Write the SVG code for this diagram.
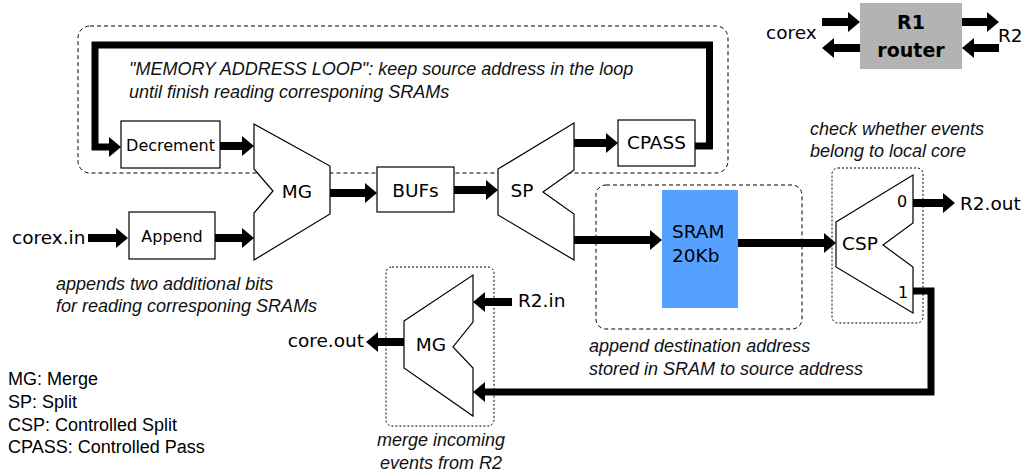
<svg xmlns="http://www.w3.org/2000/svg" width="1028" height="476" viewBox="0 0 1028 476">
<style>
.lbl{font-family:"DejaVu Sans",sans-serif;font-size:18.5px;fill:#000}
.sm{font-family:"DejaVu Sans",sans-serif;font-size:16px;fill:#000}
.note{font-family:"Liberation Sans",Arial,sans-serif;font-size:18px;font-style:italic;fill:#111}
.leg{font-family:"Liberation Sans",Arial,sans-serif;font-size:18px;fill:#000}
.bold{font-family:"DejaVu Sans",sans-serif;font-size:19px;font-weight:bold;fill:#000}
.box{fill:#fff;stroke:#000;stroke-width:1.2}
.dash{fill:none;stroke:#000;stroke-width:1;stroke-dasharray:4,3}
.dot{fill:none;stroke:#000;stroke-width:1;stroke-dasharray:2,2}
.arr{fill:none;stroke:#000;stroke-width:8;marker-end:url(#ah)}
.loop{fill:none;stroke:#000;stroke-width:7;stroke-linejoin:miter;marker-end:url(#ah)}
</style>
<defs>
<marker id="ah" markerUnits="userSpaceOnUse" markerWidth="12" markerHeight="20" viewBox="0 0 12 20" refX="1" refY="10" orient="auto">
<path d="M0,0 L12,10 L0,20 z" fill="#000"/>
</marker>
</defs>
<rect width="1028" height="476" fill="#fff"/>

<g id="regions">
<rect class="dash" x="78" y="26" width="650" height="147" rx="12"/>
<rect class="dash" x="596" y="185" width="206" height="144" rx="10"/>
<rect class="dot" x="832" y="168" width="91" height="155" rx="6"/>
<rect class="dot" x="386" y="267" width="108" height="159" rx="6"/>
</g>

<g id="connectors">
<path class="arr" d="M88,238 H117"/>
<path class="arr" d="M215,238 H243"/>
<path class="loop" d="M695,146 H709.5 V45 H95 V147 H110"/>
<path class="arr" d="M220,146 H243"/>
<path class="arr" d="M330,193 H366"/>
<path class="arr" d="M454,190 H487"/>
<path class="arr" d="M574,143 H607"/>
<path class="arr" d="M574,240 H651"/>
<path class="arr" d="M738,243 H825"/>
<path class="arr" d="M913,203 H944"/>
<path class="loop" d="M913,291 H931 V392 H484"/>
<path class="arr" d="M512,302 H484"/>
<path class="arr" d="M404,342 H377"/>
<path class="arr" d="M822,22 H849"/>
<path class="arr" d="M860,48 H833"/>
<path class="arr" d="M962,22 H988"/>
<path class="arr" d="M999,48 H973"/>
</g>

<g id="decrement">
<rect class="box" x="121" y="121" width="99" height="47"/>
<text class="sm" x="170.5" y="151" text-anchor="middle">Decrement</text>
</g>
<g id="append">
<rect class="box" x="129" y="212" width="86" height="47"/>
<text class="sm" x="172" y="242" text-anchor="middle">Append</text>
</g>
<g id="mg1">
<path class="box" d="M254,124 L330,166 L330,214 L254,260 L254,213 L273,191 L254,169 Z"/>
<text class="lbl" x="297" y="198" text-anchor="middle">MG</text>
</g>
<g id="bufs">
<rect class="box" x="377" y="167" width="77" height="45"/>
<text class="lbl" x="415.5" y="197" text-anchor="middle">BUFs</text>
</g>
<g id="sp">
<path class="box" d="M498,169 L574,123 L574,170 L543,192 L574,214 L574,260 L498,215 Z"/>
<text class="lbl" x="522" y="197" text-anchor="middle">SP</text>
</g>
<g id="cpass">
<rect class="box" x="618" y="120" width="77" height="46"/>
<text class="lbl" x="656.5" y="149" text-anchor="middle">CPASS</text>
</g>
<g id="sram">
<rect x="662" y="190" width="76" height="118" fill="#56a0ff"/>
<text class="lbl" x="672" y="238">SRAM</text>
<text class="lbl" x="672" y="262">20Kb</text>
</g>
<g id="csp">
<path class="box" d="M836,222 L913,175 L913,223 L883,245 L913,267 L913,313 L836,267 Z"/>
<text class="lbl" x="860" y="250" text-anchor="middle">CSP</text>
<text class="sm" x="902" y="207" text-anchor="middle">0</text>
<text class="sm" x="903" y="298" text-anchor="middle">1</text>
</g>
<g id="mg2">
<path class="box" d="M404,321 L473,275 L473,322 L453,347 L473,368 L473,416 L404,368 Z"/>
<text class="lbl" x="431" y="351" text-anchor="middle">MG</text>
</g>
<g id="r1">
<rect x="860" y="3" width="102" height="66" fill="#b3b3b3"/>
<text class="bold" x="911" y="29" text-anchor="middle">R1</text>
<text class="bold" x="911" y="57" text-anchor="middle">router</text>
</g>

<g id="labels">
<text class="lbl" x="12" y="244">corex.in</text>
<text class="lbl" x="960" y="210">R2.out</text>
<text class="lbl" x="518" y="307">R2.in</text>
<text class="lbl" x="364" y="347" text-anchor="end">core.out</text>
<text class="lbl" x="766" y="39">corex</text>
<text class="lbl" x="998" y="42">R2</text>
</g>

<g id="notes">
<text class="note" x="129" y="75">"MEMORY ADDRESS LOOP": keep source address in the loop</text>
<text class="note" x="129" y="98">until finish reading corresponing SRAMs</text>
<text class="note" x="56" y="290">appends two additional bits</text>
<text class="note" x="56" y="312">for reading corresponing SRAMs</text>
<text class="note" x="810" y="135">check whether events</text>
<text class="note" x="810" y="157">belong to local core</text>
<text class="note" x="589" y="352">append destination address</text>
<text class="note" x="589" y="375">stored in SRAM to source address</text>
<text class="note" x="441" y="446" text-anchor="middle">merge incoming</text>
<text class="note" x="441" y="469" text-anchor="middle">events from R2</text>
</g>

<g id="legend">
<text class="leg" x="8" y="385">MG: Merge</text>
<text class="leg" x="8" y="408">SP: Split</text>
<text class="leg" x="8" y="431">CSP: Controlled Split</text>
<text class="leg" x="8" y="453">CPASS: Controlled Pass</text>
</g>
</svg>
